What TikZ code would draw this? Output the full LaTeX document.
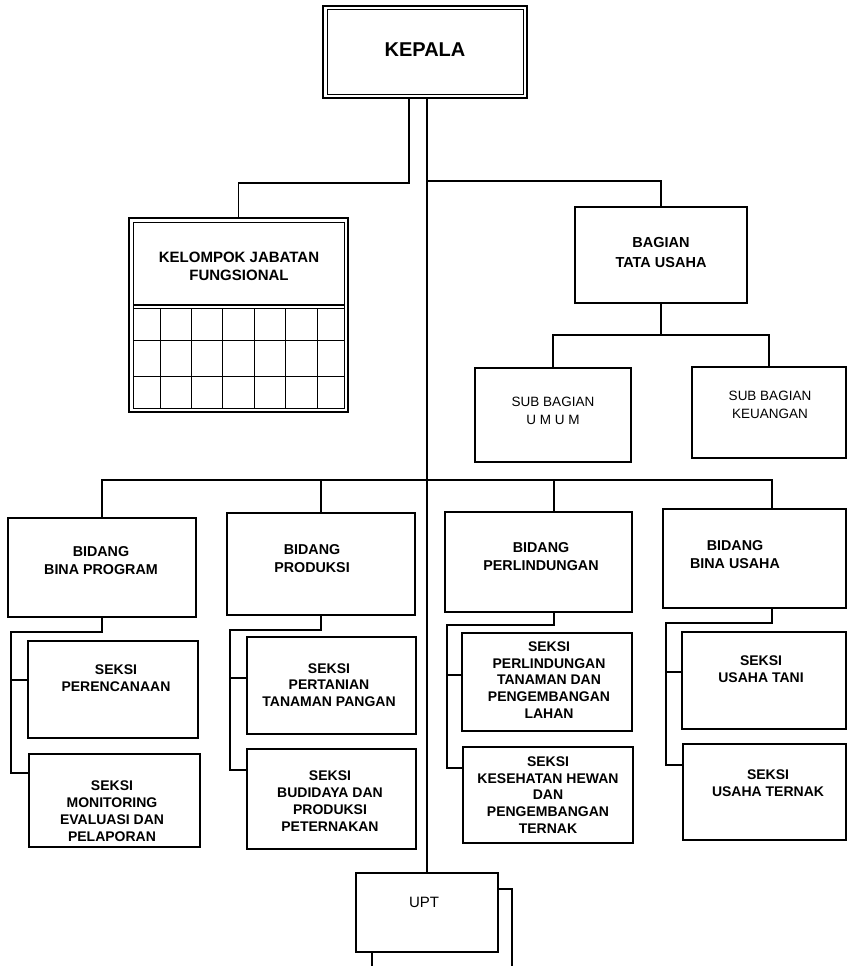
\documentclass[tikz,border=0pt]{standalone}
\usepackage{fontspec}
\setmainfont{Liberation Sans}
\tikzset{
  box/.style={draw, line width=1.4pt, inner sep=0pt, outer sep=0pt},
  con/.style={line width=1.1pt},
  bid/.style={font=\bfseries\fontsize{14.3}{18}\selectfont, align=center, inner sep=0pt},
  sek/.style={font=\bfseries\fontsize{14}{16.8}\selectfont, align=center, inner sep=0pt},
  sub/.style={font=\fontsize{13.5}{18}\selectfont, align=center, inner sep=0pt},
}
\newcommand\bx[6][]{\node[box,#1, minimum width={(#5-#3)*1pt}, minimum height={(#6-#4)*1pt}] (#2) at ({(#3+#5)/2},{(#4+#6)/2}) {};}
\begin{document}
\begin{tikzpicture}[x=1pt,y=-1pt]
\useasboundingbox (0,0) rectangle (847,966);

% ---------- boxes ----------
\bx[line width=1.8pt]{kep}{323}{6}{527}{98}
\draw[line width=1pt] (327,10) rectangle (523,94);
\bx[line width=1.8pt]{kjf}{129}{218}{348}{412}
\draw[line width=1pt] (133,222) rectangle (344,408);
\draw[line width=1.2pt] (133,305) -- (344,305);
\draw[line width=1pt] (133,308) -- (344,308);
\foreach \yy in {340,376} \draw[line width=1pt] (133,\yy) -- (344,\yy);
\foreach \xx in {160,191,222,254,285,317} \draw[line width=1pt] (\xx,308) -- (\xx,408);

\bx{bag}{575}{207}{747}{303}
\bx{umum}{475}{368}{631}{462}
\bx{keu}{692}{367}{846}{458}

\bx{bp}{8}{518}{196}{617}
\bx{prod}{227}{513}{415}{615}
\bx{perl}{445}{512}{632}{612}
\bx{bu}{663}{509}{846}{608}

\bx{s1a}{28}{641}{198}{738}
\bx{s1b}{29}{754}{200}{847}
\bx{s2a}{247}{637}{416}{734}
\bx{s2b}{247}{749}{416}{849}
\bx{s3a}{462}{633}{632}{731}
\bx{s3b}{463}{747}{633}{843}
\bx{s4a}{682}{632}{846}{729}
\bx{s4b}{683}{744}{846}{840}

\bx{upt}{356}{873}{498}{952}

% ---------- texts ----------
\node[font=\bfseries\fontsize{20}{24}\selectfont, inner sep=0pt] (kept) at (425,50) {KEPALA};
\node[font=\bfseries\fontsize{15}{18}\selectfont, align=center, inner sep=0pt] (kjft) at (239,266) {KELOMPOK JABATAN\\FUNGSIONAL};
\node[font=\bfseries\fontsize{14.5}{20}\selectfont, align=center, inner sep=0pt] (bagt) at (661,253) {BAGIAN\\TATA USAHA};
\node[sub] (umumt) at (553,411) {SUB BAGIAN\\U M U M};
\node[sub] (keut) at (770,405) {SUB BAGIAN\\KEUANGAN};

\node[bid] (bpt) at (101,561) {BIDANG\\BINA PROGRAM};
\node[bid] (prodt) at (312,559) {BIDANG\\PRODUKSI};
\node[bid] (perlt) at (541,557) {BIDANG\\PERLINDUNGAN};
\node[bid] (but) at (735,555) {BIDANG\\BINA USAHA};

\node[sek] (s1at) at (116,678) {SEKSI\\PERENCANAAN};
\node[sek] (s1bt) at (112,811) {SEKSI\\MONITORING\\EVALUASI DAN\\PELAPORAN};
\node[sek] (s2at) at (329,685) {SEKSI\\PERTANIAN\\TANAMAN PANGAN};
\node[sek] (s2bt) at (330,801) {SEKSI\\BUDIDAYA DAN\\PRODUKSI\\PETERNAKAN};
\node[sek] (s3at) at (549,680) {SEKSI\\PERLINDUNGAN\\TANAMAN DAN\\PENGEMBANGAN\\LAHAN};
\node[sek] (s3bt) at (548,795) {SEKSI\\KESEHATAN HEWAN\\DAN\\PENGEMBANGAN\\TERNAK};
\node[sek] (s4at) at (761,669) {SEKSI\\USAHA TANI};
\node[sek] (s4bt) at (768,783) {SEKSI\\USAHA TERNAK};

\node[font=\fontsize{15}{18}\selectfont, inner sep=0pt] (uptt) at (424,902) {UPT};

% ---------- connectors ----------
\coordinate (a1) at (409,183);
\draw[con] (kep.south -| a1) -- (a1) -| (kjf.north);
\draw[con] (kep.south -| upt.north) -- (upt.north);
\coordinate (a2) at (427,181);
\draw[con] (a2) -| (bag.north);
\coordinate (a3) at (661,335);
\draw[con] (bag.south) -- (a3);
\draw[con] (umum.north) |- (a3) -| (keu.north);

\coordinate (b1) at (102,480);
\coordinate (b2) at (321,480);
\coordinate (b3) at (554,480);
\coordinate (b4) at (772,480);
\draw[con] (bp.north) -- (b1) -- (b4) -- (bu.north -| b4);
\draw[con] (b2) -- (prod.north);
\draw[con] (b3) -- (perl.north -| b3);

% column 1
\coordinate (c1) at (102,632); \coordinate (d1) at (11,632);
\coordinate (e1) at (11,773);  \coordinate (f1) at (11,680);
\draw[con] (bp.south) -- (c1) -- (d1) -- (e1) -- (s1b.west |- e1);
\draw[con] (f1) -- (s1a.west |- f1);
% column 2
\coordinate (c2) at (321,630); \coordinate (d2) at (230,630);
\coordinate (e2) at (230,770); \coordinate (f2) at (230,678);
\draw[con] (prod.south) -- (c2) -- (d2) -- (e2) -- (s2b.west |- e2);
\draw[con] (f2) -- (s2a.west |- f2);
% column 3
\coordinate (c3) at (554,625); \coordinate (d3) at (447,625);
\coordinate (e3) at (447,768); \coordinate (f3) at (447,675);
\draw[con] (perl.south -| c3) -- (c3) -- (d3) -- (e3) -- (s3b.west |- e3);
\draw[con] (f3) -- (s3a.west |- f3);
% column 4
\coordinate (c4) at (772,623); \coordinate (d4) at (666,623);
\coordinate (e4) at (666,765); \coordinate (f4) at (666,672);
\draw[con] (bu.south -| c4) -- (c4) -- (d4) -- (e4) -- (s4b.west |- e4);
\draw[con] (f4) -- (s4a.west |- f4);

% UPT
\coordinate (u1) at (512,889); \coordinate (u2) at (512,966);
\draw[con] (upt.east |- u1) -- (u1) -- (u2);
\coordinate (u3) at (372,966);
\draw[con] (upt.south -| u3) -- (u3);
\end{tikzpicture}
\end{document}
